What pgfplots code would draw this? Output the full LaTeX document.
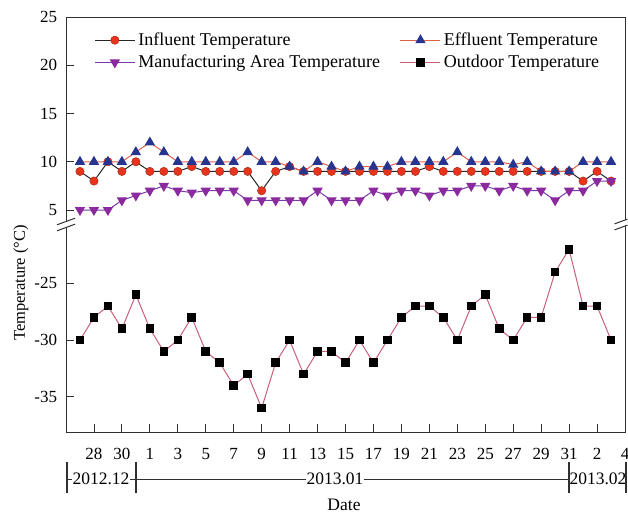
\documentclass[border=0pt]{standalone}
\usepackage{fontspec}
\setmainfont{Liberation Serif}
\usepackage{pgfplots}
\pgfplotsset{compat=1.18}
\definecolor{infl}{HTML}{E8341C}
\definecolor{effline}{HTML}{E0604A}
\definecolor{effmark}{HTML}{26358F}
\definecolor{manu}{HTML}{7A3BA8}
\definecolor{manumark}{HTML}{8A2A9E}
\definecolor{outline}{HTML}{C8607A}
\definecolor{axcol}{HTML}{303030}

\begin{document}
\fontsize{17}{20}\selectfont
\begin{tikzpicture}
\path[use as bounding box] (0,0) rectangle (628pt,-515pt);
\pgfplotsset{
  every axis/.append style={
    scale only axis, width=559pt, xmin=-5, xmax=35, clip=false,
    axis line style={draw=none},
    tick style={axcol, line width=0.9pt},
    major tick length=8pt,
    tick align=inside,
    ytick pos=left, xtick pos=bottom,
    yticklabel style={xshift=-3pt},
  }
}
\begin{axis}[at={(66pt,-17pt)}, anchor=north west, height=207pt,
  ymin=3.55, ymax=25, ytick={5,10,15,20,25}, yticklabels={5,10,15,20,25},
  xtick=\empty,
  legend columns=2,
  legend cell align={left},
  legend image code/.code={\draw[mark repeat=2,mark phase=2,#1] plot coordinates {(0pt,0pt) (20pt,0pt) (40pt,0pt)};},
  legend style={draw=none, fill=none, font=\fontsize{18}{21}\selectfont,
    at={(axis description cs:0.045,0.945)}, anchor=north west,
    row sep=3pt,
    /tikz/column 1/.style={column sep=1pt},
    /tikz/column 2/.style={column sep=18pt},
    /tikz/column 3/.style={column sep=1pt}},
]
\addplot[black!85, line width=1pt, mark=*, mark size=4.2pt,
  mark options={fill=infl, draw=infl!70!black, line width=0.4pt}] coordinates {
(-4,9) (-3,8) (-2,10) (-1,9) (0,10) (1,9) (2,9) (3,9) (4,9.5) (5,9)
(6,9) (7,9) (8,9) (9,7) (10,9) (11,9.5) (12,9) (13,9) (14,9) (15,9)
(16,9) (17,9) (18,9) (19,9) (20,9) (21,9.5) (22,9) (23,9) (24,9) (25,9)
(26,9) (27,9) (28,9) (29,9) (30,9) (31,9) (32,8) (33,9) (34,8)};
\addlegendentry{Influent Temperature}
\addplot[effline, line width=1pt, mark=triangle*, mark size=5pt,
  mark options={fill=effmark, draw=effmark}] coordinates {
(-4,10) (-3,10) (-2,10) (-1,10) (0,11) (1,12) (2,11) (3,10) (4,10) (5,10)
(6,10) (7,10) (8,11) (9,10) (10,10) (11,9.5) (12,9) (13,10) (14,9.5) (15,9)
(16,9.5) (17,9.5) (18,9.5) (19,10) (20,10) (21,10) (22,10) (23,11) (24,10) (25,10)
(26,10) (27,9.7) (28,10) (29,9) (30,9) (31,9) (32,10) (33,10) (34,10)};
\addlegendentry{Effluent Temperature}
\addplot[manu, line width=1pt, mark=triangle*, mark size=5pt,
  mark options={fill=manumark, draw=manumark, rotate=180}] coordinates {
(-4,5) (-3,5) (-2,5) (-1,6) (0,6.5) (1,7) (2,7.5) (3,7) (4,6.8) (5,7)
(6,7) (7,7) (8,6) (9,6) (10,6) (11,6) (12,6) (13,7) (14,6) (15,6)
(16,6) (17,7) (18,6.5) (19,7) (20,7) (21,6.5) (22,7) (23,7) (24,7.5) (25,7.5)
(26,7) (27,7.5) (28,7) (29,7) (30,6) (31,7) (32,7) (33,8) (34,8)};
\addlegendentry{Manufacturing Area Temperature}
\addlegendimage{outline, line width=1pt, mark=square*, mark size=3.8pt, mark options={fill=black, draw=black}}
\addlegendentry{Outdoor Temperature}
\draw[axcol, line width=1pt] (rel axis cs:0,0) -- (rel axis cs:0,1) -- (rel axis cs:1,1) -- (rel axis cs:1,0);
\end{axis}

\begin{axis}[at={(66pt,-224pt)}, anchor=north west, height=208pt,
  ymin=-38.1, ymax=-19.77, ytick={-35,-30,-25}, yticklabels={-35,-30,-25},
  xtick={-3,-1,...,35},
  xticklabels={28,30,1,3,5,7,9,11,13,15,17,19,21,23,25,27,29,31,2,4},
  xticklabel style={yshift=-10pt},
]
\addplot[outline, line width=1pt, mark=square*, mark size=3.8pt,
  mark options={fill=black, draw=black}] coordinates {
(-4,-30) (-3,-28) (-2,-27) (-1,-29) (0,-26) (1,-29) (2,-31) (3,-30) (4,-28) (5,-31)
(6,-32) (7,-34) (8,-33) (9,-36) (10,-32) (11,-30) (12,-33) (13,-31) (14,-31) (15,-32)
(16,-30) (17,-32) (18,-30) (19,-28) (20,-27) (21,-27) (22,-28) (23,-30) (24,-27) (25,-26)
(26,-29) (27,-30) (28,-28) (29,-28) (30,-24) (31,-22) (32,-27) (33,-27) (34,-30)};
\draw[axcol, line width=1pt] (rel axis cs:0,1) -- (rel axis cs:0,0) -- (rel axis cs:1,0) -- (rel axis cs:1,1);
\end{axis}

% axis titles
\node[rotate=90, font=\fontsize{16.5}{19}\selectfont] at (21pt,-283pt) {Temperature (°C)};
\node[font=\fontsize{17.5}{20}\selectfont] at (344pt,-505pt) {Date};

% date brackets
\draw[axcol, line width=1pt] (66.7pt,-479pt) -- (626pt,-479pt);
\node[fill=white, inner sep=0.5pt, font=\fontsize{17.5}{20}\selectfont] at (101pt,-479pt) {2012.12};
\node[fill=white, inner sep=1pt, font=\fontsize{17.5}{20}\selectfont] at (335pt,-479pt) {2013.01};
\node[fill=white, inner sep=0.5pt, font=\fontsize{17.5}{20}\selectfont] at (598pt,-479pt) {2013.02};
\foreach \x in {66.7,135.7,569.3,626} {\draw[axcol, line width=1.8pt] (\x pt,-462pt) -- (\x pt,-493pt);}

% break marks
\fill[white] (57pt,-224.8pt) -- (75pt,-218.2pt) -- (75pt,-224.2pt) -- (57pt,-230.8pt) -- cycle;
\draw[axcol, line width=1pt] (57pt,-224.8pt) -- (75pt,-218.2pt);
\draw[axcol, line width=1pt] (57pt,-230.8pt) -- (75pt,-224.2pt);
\fill[white] (614.5pt,-223.9pt) -- (627.5pt,-219.1pt) -- (627.5pt,-225.1pt) -- (614.5pt,-229.9pt) -- cycle;
\draw[axcol, line width=1pt] (614.5pt,-223.9pt) -- (627.5pt,-219.1pt);
\draw[axcol, line width=1pt] (614.5pt,-229.9pt) -- (627.5pt,-225.1pt);
\end{tikzpicture}
\end{document}
